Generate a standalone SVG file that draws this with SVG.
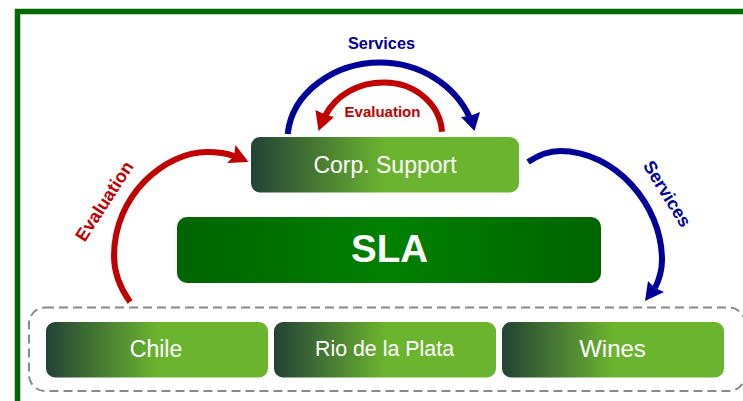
<svg xmlns="http://www.w3.org/2000/svg" width="743" height="401" viewBox="0 0 743 401">
<style>
text{font-family:"Liberation Sans",Arial,sans-serif;text-anchor:middle}
.box{fill:url(#g);}
.w{fill:#fff}
.arc{fill:none;stroke-width:6}
.b{stroke:#000099}.r{stroke:#c00000}
.bf{fill:#000099}.rf{fill:#c00000}
.lb{font-weight:bold}
</style>
<defs>
<linearGradient id="g" x1="0" x2="1" y1="0" y2="0"><stop offset="0" stop-color="#234235"/><stop offset=".5" stop-color="#6bb42f"/><stop offset="1" stop-color="#6bb42f"/></linearGradient>
<linearGradient id="s" x1="0" x2="1" y1="0" y2="0"><stop offset="0" stop-color="#006400"/><stop offset=".5" stop-color="#008000"/><stop offset="1" stop-color="#006400"/></linearGradient>
</defs>
<rect width="743" height="401" fill="#fff"/>
<path d="M17.500 401V11.500H743" fill="none" stroke="#006a00" stroke-width="5.500"/>
<rect id="group" x="29" y="307.500" width="716" height="83.500" rx="16" fill="none" stroke="#888" stroke-width="2" stroke-dasharray="9 5"/>
<g id="connectors">
<path class="arc b" d="M287.700 134C292 92 335 62.500 380 62.500C420 62.500 455 85 470 118"/>
<polygon class="bf" points="474.500,131 461,117 470,116 480,112"/>
<path class="arc r" d="M442 131.700C440 104 415 82.500 384 82.500C358 82.500 336 95 325 116"/>
<polygon class="rf" points="318.500,131 315.500,110 326,115 334,117"/>
<path class="arc r" d="M130 302C118 285 114 270 114 256C114 195 165 152 207 152C218 152 226 153 234 156"/>
<polygon class="rf" points="248.500,162 235.500,145 234,156 227,163"/>
<path class="arc b" d="M528 162C540 154 550 151 560 151C615 151 662 205 662 260C662 270 660 278 655 288"/>
<polygon class="bf" points="645,301 664,292 655,288 648,281"/>
</g>
<g id="label-services-top"><text class="lb" style="font-size:16.300px" x="381.500" y="49" fill="#000099">Services</text></g>
<g id="label-evaluation-top"><text class="lb" style="font-size:15px" x="382.500" y="117" fill="#c00000">Evaluation</text></g>
<g id="label-evaluation-left"><text class="lb" style="font-size:18px" transform="translate(109.500,204.500) rotate(-57)" fill="#c00000">Evaluation</text></g>
<g id="label-services-right"><text class="lb" style="font-size:18px" transform="translate(662,197) rotate(58)" fill="#000099">Services</text></g>
<g id="corp"><rect class="box" x="251" y="137" width="268" height="55.500" rx="9"/><text class="w" x="385" y="173" font-size="23">Corp. Support</text></g>
<g id="sla"><rect x="177" y="217" width="424" height="66" rx="10" fill="url(#s)"/><text class="w" x="389.500" y="262" font-size="38.500" font-weight="bold">SLA</text></g>
<g id="chile"><rect class="box" x="46" y="322" width="222" height="55.500" rx="9"/><text class="w" x="156" y="357" font-size="23">Chile</text></g>
<g id="rio"><rect class="box" x="274" y="322" width="222" height="55.500" rx="9"/><text class="w" x="384.500" y="356" font-size="21.400">Rio de la Plata</text></g>
<g id="wines"><rect class="box" x="502" y="322" width="222" height="55.500" rx="9"/><text class="w" x="612.500" y="357" font-size="24">Wines</text></g>
</svg>
